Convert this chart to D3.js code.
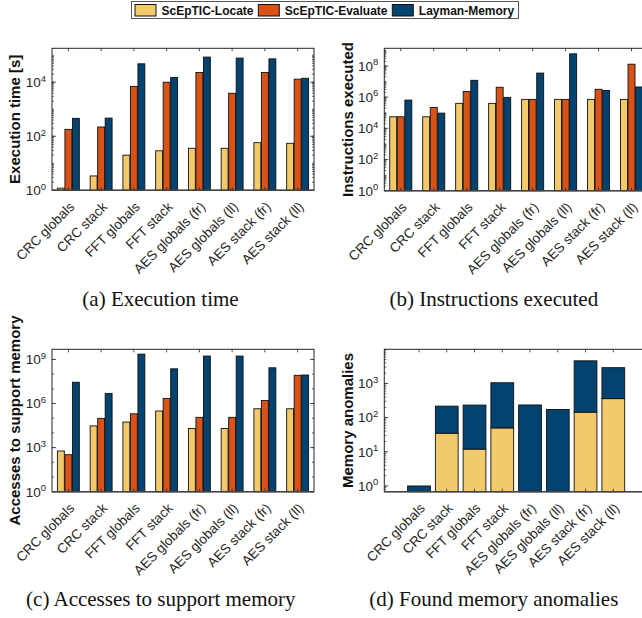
<!DOCTYPE html>
<html><head><meta charset="utf-8">
<script src="https://cdn.jsdelivr.net/npm/d3@7"></script>
<style>body{margin:0;background:#fff}svg{display:block}</style>
</head><body>
<script>
// ---------- data ----------
const categories = ["CRC globals","CRC stack","FFT globals","FFT stack","AES globals (fr)","AES globals (ll)","AES stack (fr)","AES stack (ll)"];
const seriesNames = ["ScEpTIC-Locate","ScEpTIC-Evaluate","Layman-Memory"];

const execLocate   = [1.2, 3.4, 20, 29, 36, 36, 58, 55];
const execEvaluate = [180, 220, 7000, 10000, 23000, 3900, 23000, 13000];
const execLayman   = [460, 470, 48000, 15000, 85000, 78000, 73000, 14000];

const instrLocate   = [5.5e4, 5.5e4, 4e5, 4e5, 7.2e5, 7.2e5, 7.2e5, 7.2e5];
const instrEvaluate = [5.5e4, 2.2e5, 2.3e6, 4.3e6, 7.2e5, 7.2e5, 3.2e6, 1.3e8];
const instrLayman   = [6.5e5, 9.5e4, 1.2e7, 9.7e5, 3.5e7, 6e8, 2.7e6, 4.5e6];

const accLocate   = [590, 3e4, 5.5e4, 3.1e5, 2e4, 2e4, 4.4e5, 4.4e5];
const accEvaluate = [330, 9.8e4, 2e5, 2.2e6, 1.15e5, 1.15e5, 1.6e6, 8.3e7];
const accLayman   = [2.8e7, 4.9e6, 2.3e9, 2.3e8, 1.7e9, 1.7e9, 2.7e8, 8.7e7];

// stacked: Locate part, then Layman-Memory part on top
const anomLocate = [0, 35, 12, 50, 0, 0, 145, 360];
const anomLayman = [1, 182, 221, 1000, 235, 173, 4455, 2540];

const ticksExec  = [1, 1e2, 1e4];
const ticksInstr = [1, 1e2, 1e4, 1e6, 1e8];
const ticksAcc   = [1, 1e3, 1e6, 1e9];
const ticksAnom  = [1, 1e1, 1e2, 1e3];

const colors = ["#F3CA6B", "#D95319", "#04426F"];
const TXT = "#262626";

// ---------- svg ----------
const W = 642, H = 618;
const svg = d3.select("body").append("svg").attr("width", W).attr("height", H)
  .style("overflow","hidden").style("font-family","'Liberation Sans', Arial, sans-serif");

// legend
(function legend(){
  const g = svg.append("g");
  g.append("rect").attr("x",131.5).attr("y",1.5).attr("width",387).attr("height",17)
    .attr("fill","#fff").attr("stroke","#555").attr("stroke-width",1);
  const sx = [135, 258.3, 392.3];
  seriesNames.forEach((s,i)=>{
    g.append("rect").attr("x",sx[i]).attr("y",4.5).attr("width",21).attr("height",11.5)
      .attr("fill",colors[i]).attr("stroke","#111").attr("stroke-width",1);
    g.append("text").attr("x",sx[i]+26.5).attr("y",14.5).text(s)
      .attr("font-size",12).attr("font-weight","bold").attr("fill","#111");
  });
})();

function minorTicks(domain, every){
  const lo = Math.floor(Math.log10(domain[0])), hi = Math.ceil(Math.log10(domain[1]));
  const out = [];
  for (let e = lo; e <= hi; e++) {
    const ks = every ? [1,2,3,4,5,6,7,8,9] : [1];
    ks.forEach(k=>{ const v = k*Math.pow(10,e); if (v>=domain[0] && v<=domain[1]) out.push(v); });
  }
  return out;
}

function drawAxesFrame(g, box, y, majors, minorsDense, xTicks, yLabel){
  const {l,r,t,b} = box;
  minorTicks(y.domain(), minorsDense).forEach(v=>{
    const yy = y(v);
    g.append("line").attr("x1",l).attr("x2",l+2).attr("y1",yy).attr("y2",yy).attr("stroke",TXT).attr("stroke-width",0.7);
    g.append("line").attr("x1",r).attr("x2",r-2).attr("y1",yy).attr("y2",yy).attr("stroke",TXT).attr("stroke-width",0.7);
  });
  majors.forEach(v=>{
    const yy = y(v);
    g.append("line").attr("x1",l).attr("x2",l+4).attr("y1",yy).attr("y2",yy).attr("stroke",TXT).attr("stroke-width",0.8);
    g.append("line").attr("x1",r).attr("x2",r-4).attr("y1",yy).attr("y2",yy).attr("stroke",TXT).attr("stroke-width",0.8);
    const e = Math.round(Math.log10(v));
    const tx = g.append("text").attr("x",l-6).attr("y",yy+4.8).attr("text-anchor","end")
      .attr("fill",TXT).attr("font-size",13.5);
    tx.append("tspan").text("10");
    tx.append("tspan").text(e).attr("font-size",9.5).attr("dy",-5.5);
  });
  xTicks.forEach(x=>{
    g.append("line").attr("x1",x).attr("x2",x).attr("y1",t).attr("y2",t+3).attr("stroke",TXT).attr("stroke-width",0.8);
    g.append("line").attr("x1",x).attr("x2",x).attr("y1",b).attr("y2",b-3).attr("stroke",TXT).attr("stroke-width",0.8);
  });
  g.append("rect").attr("x",l).attr("y",t).attr("width",r-l).attr("height",b-t)
    .attr("fill","none").attr("stroke",TXT).attr("stroke-width",1);
  g.append("line").attr("x1",l).attr("x2",r).attr("y1",b).attr("y2",b).attr("stroke","#444").attr("stroke-width",1.6);
  xTicks.forEach((x,i)=>{
    g.append("text").attr("transform",`translate(${x+3.5},${b+14}) rotate(-45)`)
      .attr("text-anchor","end").attr("dy","0.35em").attr("font-size",13.5).attr("fill",TXT)
      .text(categories[i]);
  });
  g.append("text").attr("transform",`translate(${yLabel.x},${(t+b)/2}) rotate(-90)`)
    .attr("text-anchor","middle").attr("dy","0.35em").attr("font-size",15).attr("font-weight","bold")
    .attr("fill","#111").text(yLabel.text);
}

function groupedPanel(box, domain, data, majors, dense, yLabelText, labelX, caption, capX, capY){
  const {l,r,t,b} = box;
  const g = svg.append("g");
  const y = d3.scaleLog().domain(domain).range([b,t]).clamp(true);
  const x0 = d3.scaleBand().domain(categories).range([l,r]).paddingInner(0.33).paddingOuter(0.165);
  const x1 = d3.scaleBand().domain(seriesNames).range([0,x0.bandwidth()]).paddingInner(0.08);
  categories.forEach((c,i)=>{
    seriesNames.forEach((s,j)=>{
      const v = data[j][i];
      g.append("rect").attr("x",x0(c)+x1(s)).attr("y",y(v)).attr("width",x1.bandwidth())
        .attr("height",b-y(v)).attr("fill",colors[j]).attr("stroke","#111").attr("stroke-width",0.9);
    });
  });
  const xt = categories.map(c=>x0(c)+x0.bandwidth()/2);
  drawAxesFrame(g, box, y, majors, dense, xt, {x:labelX, text:yLabelText});
  svg.append("text").attr("x",capX).attr("y",capY).attr("text-anchor","middle")
    .attr("font-family","'Liberation Serif','Times New Roman',serif").attr("font-size",21)
    .attr("fill","#111").text(caption);
}

groupedPanel({l:52,r:314,t:48.3,b:190.3}, [1,1.8e5], [execLocate,execEvaluate,execLayman],
  ticksExec, true, "Execution time [s]", 14.5, "(a) Execution time", 160.5, 305.5);
groupedPanel({l:384.3,r:648,t:48.3,b:190.7}, [1,1.36e9], [instrLocate,instrEvaluate,instrLayman],
  ticksInstr, true, "Instructions executed", 347.5, "(b) Instructions executed", 493.8, 305.5);
groupedPanel({l:52,r:314,t:349.3,b:491.7}, [1,4.9e9], [accLocate,accEvaluate,accLayman],
  ticksAcc, false, "Accesses to support memory", 14.5, "(c) Accesses to support memory", 160.8, 605.5);

// stacked panel (d)
(function(){
  const box = {l:384.3,r:648,t:349.3,b:491.7};
  const {l,r,t,b} = box;
  const g = svg.append("g");
  const y = d3.scaleLog().domain([0.68,1e4]).range([b,t]).clamp(true);
  const x = d3.scaleLinear().domain([-0.25,9.25]).range([l,r]);
  const bw = x(0.82)-x(0);
  categories.forEach((c,i)=>{
    const cx = x(i+1);
    const loc = anomLocate[i], tot = anomLocate[i]+anomLayman[i];
    const base = loc>0 ? y(loc) : b;
    if (loc>0) g.append("rect").attr("x",cx-bw/2).attr("y",y(loc)).attr("width",bw).attr("height",b-y(loc))
      .attr("fill",colors[0]).attr("stroke","#111").attr("stroke-width",0.9);
    g.append("rect").attr("x",cx-bw/2).attr("y",y(tot)).attr("width",bw).attr("height",base-y(tot))
      .attr("fill",colors[2]).attr("stroke","#111").attr("stroke-width",0.9);
  });
  const xt = categories.map((c,i)=>x(i+1));
  drawAxesFrame(g, box, y, ticksAnom, true, xt, {x:347.5, text:"Memory anomalies"});
  svg.append("text").attr("x",493.8).attr("y",605.5).attr("text-anchor","middle")
    .attr("font-family","'Liberation Serif','Times New Roman',serif").attr("font-size",21)
    .attr("fill","#111").text("(d) Found memory anomalies");
})();
</script>
</body></html>
